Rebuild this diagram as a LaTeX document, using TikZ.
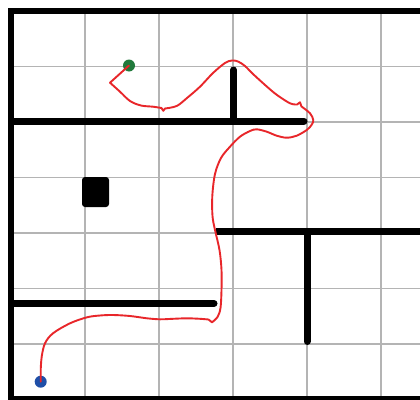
\documentclass[tikz,border=0pt]{standalone}
\definecolor{gridgray}{HTML}{B4B4B4}
\definecolor{routered}{HTML}{E8262A}
\definecolor{startgreen}{HTML}{217A3C}
\definecolor{goalblue}{HTML}{1F4FA8}
\begin{document}
\begin{tikzpicture}[x=1pt,y=-1pt,
  wall/.style={line width=7pt, line cap=round},
  outerwall/.style={line width=6.5pt, line join=miter},
  gridline/.style={draw=gridgray, line width=1.3pt},
  route/.style={draw=routered, line width=1.9pt, line join=round, line cap=round},
  dot/.style={circle, inner sep=0pt, minimum size=12pt}]
\useasboundingbox (0,0) rectangle (420,399);
\clip (0,0) rectangle (420,399);
\fill[white] (0,0) rectangle (420,399);
% grid
\foreach \x in {85,159,233,307,381} \draw[gridline] (\x,11) -- (\x,399);
\foreach \y in {66.5,122,177.5,233,288.5,344} \draw[gridline] (11,\y) -- (420,\y);
% inner walls
\draw[wall, line cap=butt] (11,121) -- (300.5,121);
\draw[wall] (300.5,121) -- (304,121);
\draw[wall] (233.5,70) -- (233.5,121);
\draw[wall, line cap=butt] (216,231.5) -- (420,231.5);
\draw[wall] (307,231.5) -- (307,341.5);
\draw[wall, line cap=butt] (11,303.5) -- (210,303.5);
\draw[wall] (210,303.5) -- (214,303.5);
\fill[rounded corners=3pt] (82,177) rectangle (109,207);
% outer walls
\draw[outerwall] (420,11) -- (11,11) -- (11,403);
\draw[line width=7pt] (11,399.5) -- (420,399.5);
% start and goal
\node[dot, fill=startgreen] (g) at (129,65.5) {};
\node[dot, fill=goalblue] (b) at (40.7,381.7) {};
% route
\draw[route] (g.center) -- (110,82.7)
  -- plot[smooth, tension=0.55] coordinates {(110,82.7) (120,91.7) (130,101) (141,105.5) (153,106.7) (161.5,108)}
  -- (163.3,110.8) -- (165,108.5)
  -- plot[smooth, tension=0.55] coordinates {(165,108.5) (176.7,106) (187,98) (200,86.7) (213,73) (225,63) (232,60.5) (238,61.5) (245,66) (253,74) (267,86.7) (277,95) (290,103.3) (297,104.5)}
  -- (300,102.3) -- (301.5,106.5)
  -- plot[smooth, tension=0.55] coordinates {(301.5,106.5) (310,113.3) (313.3,120) (311.5,125) (306.7,130) (296.7,135.7) (286.7,137.7) (276.7,135.7) (266.7,131.7) (256.7,129.3) (250,131) (240,136.7) (230,146.7) (221,158) (215,174) (212.3,196) (212.5,216) (215,230) (219.5,250) (221.5,270) (221.5,290) (220.5,308) (217.5,317) (212,322.3)}
  -- (208.5,319.5)
  -- plot[smooth, tension=0.55] coordinates {(208.5,319.5) (200,318.8) (186.7,318.3) (173,318.8) (160,319.3) (147,318.3) (130,316) (113,315) (100,315.5) (87,317.3) (70,323.3) (53,333.3) (45,343.3) (41.7,356.7) (40.7,370)}
  -- (b.center);
\end{tikzpicture}
\end{document}
